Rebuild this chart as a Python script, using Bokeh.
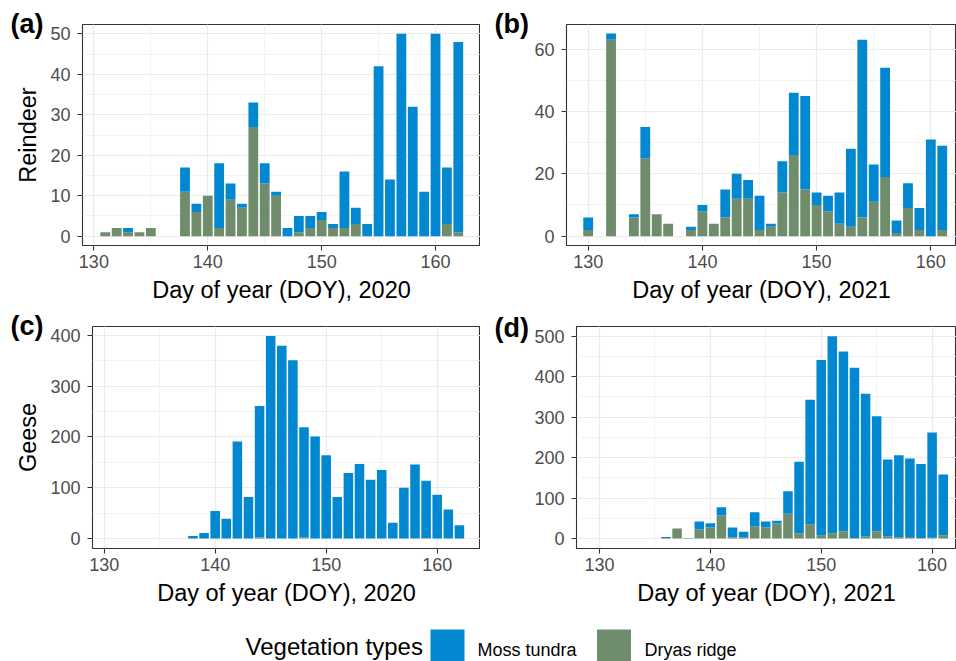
from bokeh.plotting import figure
from bokeh.layouts import column, row
from bokeh.models import SingleIntervalTicker, Title, ColumnDataSource, Range1d
from bokeh.embed import file_html
from bokeh.resources import INLINE
from bokeh.core.properties import value

FONT = "Liberation Sans"
BLUE = "#0288D1"
GREEN = "#6F8C6C"

# ---------------- data ----------------
series_names = ["Moss tundra", "Dryas ridge"]
series_colors = [BLUE, GREEN]

# (a) Reindeer 2020
a_days = [131, 132, 133, 134, 135, 138, 139, 140, 141, 142, 143, 144, 145, 146, 147,
          148, 149, 150, 151, 152, 153, 154, 155, 156, 157, 158, 159, 160, 161, 162]
a_dryas = [1, 2, 1, 1, 2, 11, 6, 10, 2, 9, 7, 27, 13, 10, 0,
           1, 2, 4, 2, 2, 3, 0, 0, 0, 0, 0, 0, 0, 3, 1]
a_moss = [0, 0, 1, 0, 0, 6, 2, 0, 16, 4, 1, 6, 5, 1, 2,
          4, 3, 2, 1, 14, 4, 3, 42, 14, 50, 32, 11, 50, 14, 47]

# (b) Reindeer 2021
b_days = [130, 132, 134, 135, 136, 137, 139, 140, 141, 142, 143, 144, 145, 146, 147,
          148, 149, 150, 151, 152, 153, 154, 155, 156, 157, 158, 159, 160, 161]
b_dryas = [2, 63, 6, 25, 7, 4, 2, 8, 4, 6, 12, 12, 2, 3, 14,
           26, 15, 10, 8, 4, 3, 6, 11, 19, 1, 9, 2, 0, 2]
b_moss = [4, 2, 1, 10, 0, 0, 1, 2, 0, 9, 8, 6, 11, 1, 10,
          20, 30, 4, 5, 10, 25, 57, 12, 35, 4, 8, 7, 31, 27]

# (c) Geese 2020
c_days = [138, 139, 140, 141, 142, 143, 144, 145, 146, 147, 148, 149, 150,
          151, 152, 153, 154, 155, 156, 157, 158, 159, 160, 161, 162]
c_dryas = [0, 0, 0, 0, 0, 0, 2, 0, 0, 0, 2, 0, 0,
           0, 0, 0, 0, 0, 0, 0, 0, 1, 0, 0, 0]
c_moss = [5, 11, 54, 39, 191, 82, 259, 399, 380, 351, 217, 201, 164,
          82, 129, 147, 116, 135, 31, 100, 146, 113, 86, 57, 26]

# (d) Geese 2021
d_days = [136, 137, 138, 139, 140, 141, 142, 143, 144, 145, 146, 147, 148,
          149, 150, 151, 152, 153, 154, 155, 156, 157, 158, 159, 160, 161]
d_dryas = [1, 25, 1, 22, 27, 57, 3, 3, 30, 27, 37, 61, 13,
           35, 8, 13, 18, 1, 5, 18, 5, 3, 4, 1, 2, 8]
d_moss = [3, 0, 0, 20, 11, 20, 24, 14, 35, 15, 7, 56, 177,
          308, 433, 487, 444, 421, 353, 284, 190, 203, 194, 183, 260, 150]

x_labels = ["Day of year (DOY), 2020", "Day of year (DOY), 2021"]
y_labels = ["Reindeer", "Geese"]
tags = ["(a)", "(b)", "(c)", "(d)"]
legend_title = "Vegetation types"


def panel(days, dryas, moss, xr, yr, yint, width, height, left, top, bottom,
          xlabel, ylabel, tag, tag_offset, tag_standoff):
    p = figure(width=width, height=height, x_range=Range1d(*xr), y_range=Range1d(*yr),
               output_backend="svg", toolbar_location=None,
               min_border_left=left, min_border_right=0,
               min_border_top=top, min_border_bottom=bottom,
               background_fill_color="white", border_fill_color="white")
    src = ColumnDataSource(dict(day=days, dryas=dryas, moss=moss))
    p.vbar_stack(["dryas", "moss"], x="day", width=0.86, source=src,
                 fill_color=[GREEN, BLUE], line_color=None)

    p.xaxis.ticker = SingleIntervalTicker(interval=10, num_minor_ticks=2)
    p.yaxis.ticker = SingleIntervalTicker(interval=yint, num_minor_ticks=2)
    for ax in (p.xaxis, p.yaxis):
        ax.axis_line_color = None
        ax.major_tick_line_color = "#333333"
        ax.major_tick_line_width = 1.1
        ax.major_tick_in = 0
        ax.major_tick_out = 5
        ax.minor_tick_line_color = None
        ax.major_label_text_font = FONT
        ax.major_label_text_font_size = "18px"
        ax.major_label_text_color = "#4D4D4D"
        ax.axis_label_text_font = FONT
        ax.axis_label_text_font_size = "23.5px"
        ax.axis_label_text_font_style = "normal"
        ax.axis_label_text_color = "#000000"
    p.xaxis.major_label_standoff = 4
    p.xaxis.axis_label_standoff = 6
    p.yaxis.major_label_standoff = 7
    p.yaxis.axis_label_standoff = 6
    p.xaxis.axis_label = xlabel
    if ylabel:
        p.yaxis.axis_label = ylabel

    for g in (p.xgrid, p.ygrid):
        g.grid_line_color = "#EBEBEB"
        g.grid_line_width = 1.2
        g.minor_grid_line_color = "#EBEBEB"
        g.minor_grid_line_width = 0.6

    p.outline_line_color = "#333333"
    p.outline_line_width = 1.1

    # panel tag as a title pulled left of / down to the frame's top-left corner
    p.add_layout(Title(text=tag, align="left", offset=tag_offset, standoff=tag_standoff,
                       text_font=FONT, text_font_size="27px", text_font_style="bold",
                       text_color="#000000"), "above")
    return p


# row 1: height 305, frame top 24, frame height 221
pa = panel(a_days, a_dryas, a_moss, (129.0, 163.95), (-2.3, 52.3), 10,
           480, 305, 82, 24, 60, x_labels[0], y_labels[0], tags[0], -72, -29)
pb = panel(b_days, b_dryas, b_moss, (128.1, 162.25), (-3.0, 67.9), 20,
           476, 305, 86, 24, 60, x_labels[1], None, tags[1], -72, -29)
# row 2: height 303, frame top 326 (21 in), frame height 222
pc = panel(c_days, c_dryas, c_moss, (128.95, 163.9), (-19.7, 417.7), 100,
           480, 303, 92, 21, 60, x_labels[0], y_labels[1], tags[2], -82, -29)
pd = panel(d_days, d_dryas, d_moss, (127.93, 162.2), (-24.7, 524.0), 100,
           476, 303, 96, 21, 60, x_labels[1], None, tags[3], -82, -33)

# legend row
lg = figure(width=956, height=53, x_range=Range1d(0, 956), y_range=Range1d(0, 53),
            output_backend="svg", toolbar_location=None, min_border=0,
            background_fill_color="white", border_fill_color="white")
lg.axis.visible = False
lg.grid.visible = False
lg.outline_line_color = None
lg.text(x=[245], y=[15], text=[legend_title], text_font=value(FONT),
        text_font_size="24px", text_color="#000000",
        text_align="left", text_baseline="middle")
sw_x = [447, 613.5]
lab_x = [477, 644]
lg.rect(x=sw_x, y=[15.5, 15.5], width=34, height=33,
        fill_color=series_colors, line_color=None)
lg.text(x=lab_x, y=[12, 12], text=series_names, text_font=value(FONT),
        text_font_size="18px", text_color="#000000",
        text_align="left", text_baseline="middle")

layout = column(row(pa, pb), row(pc, pd), lg)
open("out.html", "w").write(file_html(layout, INLINE))
